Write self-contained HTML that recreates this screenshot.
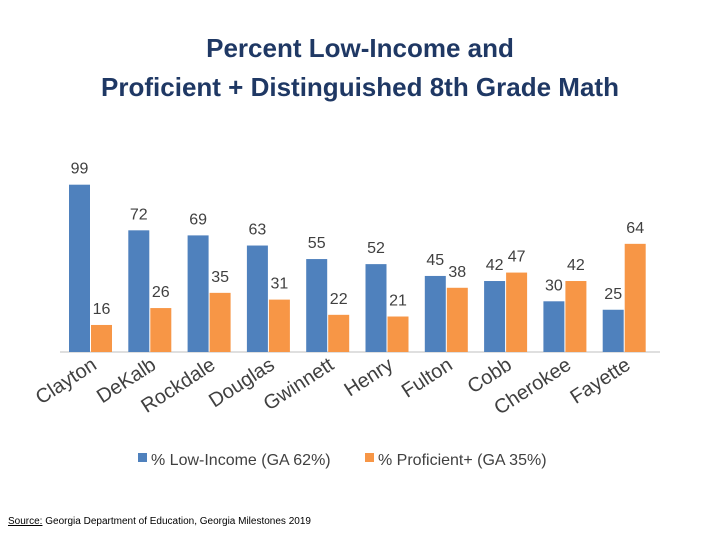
<!DOCTYPE html>
<html><head><meta charset="utf-8"><style>
body{margin:0;background:#fff;width:720px;height:540px;overflow:hidden}
svg text{font-family:"Liberation Sans",sans-serif}
</style></head><body>
<svg id="chart" width="720" height="540" xmlns="http://www.w3.org/2000/svg">
<text x="360" y="57" text-anchor="middle" font-size="26" font-weight="bold" fill="#1F3864">Percent Low-Income and</text>
<text x="360" y="96" text-anchor="middle" font-size="26" font-weight="bold" fill="#1F3864">Proficient + Distinguished 8th Grade Math</text>
<line x1="60" y1="352" x2="660" y2="352" stroke="#bfbfbf" stroke-width="1"/>
<g id="marks"></g>
<rect x="138" y="453" width="9" height="9" fill="#4F81BD"/>
<text x="151" y="465" font-size="16" fill="#404040">% Low-Income (GA 62%)</text>
<rect x="365" y="453" width="9" height="9" fill="#F79646"/>
<text x="378" y="465" font-size="16" fill="#404040">% Proficient+ (GA 35%)</text>
<text x="8" y="524" font-size="10" fill="#000"><tspan text-decoration="underline">Source:</tspan> Georgia Department of Education, Georgia Milestones 2019</text>
</svg>
<script>
const categories=["Clayton","DeKalb","Rockdale","Douglas","Gwinnett","Henry","Fulton","Cobb","Cherokee","Fayette"];
const lowIncome=[99,72,69,63,55,52,45,42,30,25];
const proficient=[16,26,35,31,22,21,38,47,42,64];
const NS="http://www.w3.org/2000/svg";
const g=document.getElementById("marks");
const base=352, scale=1.69, x0=69, step=59.3, bw=21;
function xPos(i){return x0+i*step;}
function yPos(v){return base-v*scale;}
function mk(tag,attrs){const e=document.createElementNS(NS,tag);for(const k in attrs)e.setAttribute(k,attrs[k]);g.appendChild(e);return e;}
categories.forEach((c,i)=>{
  const x=xPos(i);
  const b=mk("rect",{x:x,y:yPos(lowIncome[i]),width:bw,height:lowIncome[i]*scale,fill:"#4F81BD"});
  
  
  const o=mk("rect",{x:x+bw+1,y:yPos(proficient[i]),width:bw,height:proficient[i]*scale,fill:"#F79646"});
  
  
  const t1=mk("text",{x:x+bw/2,y:yPos(lowIncome[i])-11,"text-anchor":"middle","font-size":16,fill:"#404040"});
  t1.textContent=lowIncome[i];
  
  
  const t2=mk("text",{x:x+bw*1.5+1,y:yPos(proficient[i])-11,"text-anchor":"middle","font-size":16,fill:"#404040"});
  t2.textContent=proficient[i];
  
  
  const cx=x+bw+8, cy=368;
  const l=mk("text",{x:cx,y:cy,"text-anchor":"end","font-size":20,fill:"#404040",transform:"rotate(-33 "+cx+" "+cy+")"});
  l.textContent=c;
  
  
});
</script>
</body></html>
